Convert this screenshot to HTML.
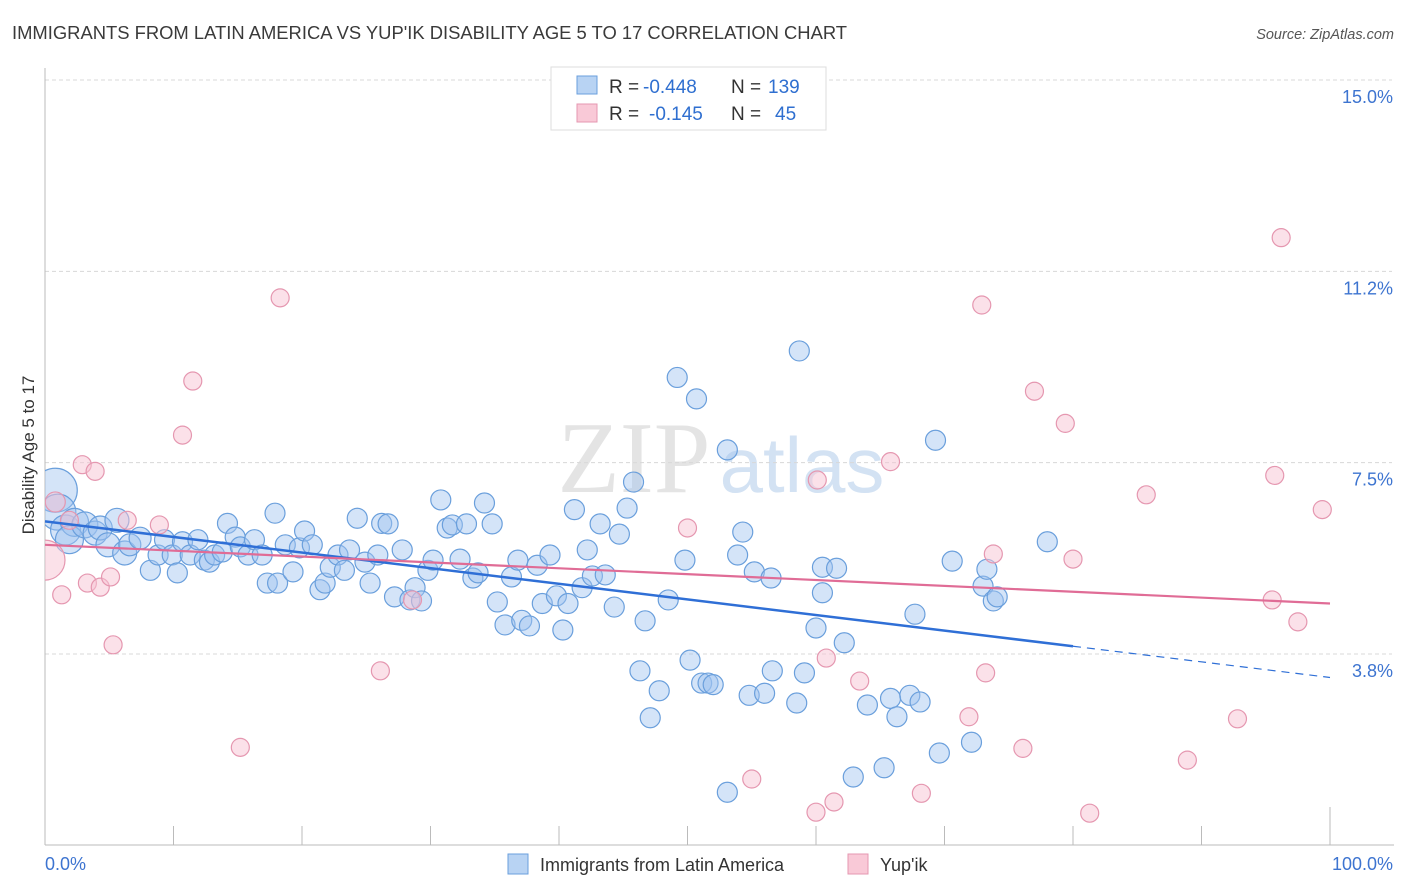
<!DOCTYPE html>
<html><head><meta charset="utf-8"><style>
body{margin:0;background:#fff;font-family:"Liberation Sans",sans-serif;}
svg{display:block}
</style></head><body>
<svg id="chart" width="1406" height="892">
<defs><clipPath id="plotclip"><rect x="45" y="60" width="1361" height="785"/></clipPath></defs>
<text x="12" y="39" font-size="18.4" fill="#3a3a3a">IMMIGRANTS FROM LATIN AMERICA VS YUP'IK DISABILITY AGE 5 TO 17 CORRELATION CHART</text>
<text x="1394" y="39" font-size="14.5" fill="#555" font-style="italic" text-anchor="end">Source: ZipAtlas.com</text>
<g>
<text x="634" y="492" font-size="102" font-family="Liberation Serif,serif" fill="#e4e4e4" text-anchor="middle">ZIP</text>
<text x="802" y="492" font-size="78" fill="#d3e2f3" text-anchor="middle">atlas</text>
</g>
<g id="grid"></g>
<g id="axes"></g>
<g id="pts" clip-path="url(#plotclip)"></g>
<g id="trends"></g>
<text transform="translate(34,455) rotate(-90)" font-size="17" fill="#333" text-anchor="middle">Disability Age 5 to 17</text>
<g>
<rect x="551" y="67" width="275" height="63" fill="#fff" stroke="#ddd"/>
<rect x="577" y="76" width="20" height="18" fill="#b8d3f3" stroke="#6a9fdc"/>
<rect x="577" y="104" width="20" height="18" fill="#f9c9d7" stroke="#e597b0"/>
<text x="609" y="93" font-size="19" fill="#333">R =</text>
<text x="643" y="93" font-size="19" fill="#2f6fd0">-0.448</text>
<text x="731" y="93" font-size="19" fill="#333">N =</text>
<text x="768" y="93" font-size="19" fill="#2f6fd0">139</text>
<text x="609" y="120" font-size="19" fill="#333">R =</text>
<text x="649" y="120" font-size="19" fill="#2f6fd0">-0.145</text>
<text x="731" y="120" font-size="19" fill="#333">N =</text>
<text x="775" y="120" font-size="19" fill="#2f6fd0">45</text>
</g>
<g>
<rect x="508" y="854" width="20" height="20" fill="#b8d3f3" stroke="#6a9fdc"/>
<text x="540" y="871" font-size="18" fill="#333">Immigrants from Latin America</text>
<rect x="848" y="854" width="20" height="20" fill="#f9c9d7" stroke="#e597b0"/>
<text x="880" y="871" font-size="18" fill="#333">Yup'ik</text>
</g>
</svg>
<script>
const yTicks=[15.0,11.25,7.5,3.75];
const yTickLabels=["15.0%","11.2%","7.5%","3.8%"];
const xTicks=[0,10,20,30,40,50,60,70,80,90,100];
const xTickLabels=["0.0%","100.0%"];
const blueX=[0.8,1.0,1.6,2.3,1.9,3.1,3.9,4.3,4.9,5.6,6.2,6.6,7.4,8.2,8.8,9.3,9.9,10.3,10.7,11.3,11.9,12.4,12.8,13.2,13.8,14.2,14.8,15.2,15.8,16.3,16.9,17.3,17.9,18.1,18.7,19.3,19.8,20.2,20.8,21.4,21.8,22.2,22.8,23.3,23.7,24.3,24.9,25.3,25.9,26.2,26.7,27.2,27.8,28.4,28.8,29.3,29.8,30.2,30.8,31.3,31.7,32.3,32.8,33.3,33.7,34.2,34.8,35.2,35.8,36.3,36.8,37.1,37.7,38.3,38.7,39.3,39.8,40.3,40.7,41.2,41.8,42.2,42.6,43.2,43.6,44.3,44.7,45.3,45.8,46.3,46.7,47.1,47.8,48.5,49.2,49.8,50.2,50.7,51.1,51.6,52.0,53.1,53.9,54.3,54.8,55.2,56.0,56.5,56.6,58.5,58.7,59.1,60.0,60.5,60.5,61.6,62.2,62.9,64.0,65.3,65.8,66.3,67.3,67.7,68.1,69.3,69.6,70.6,72.1,73.0,73.3,73.8,74.1,78.0,53.1];
const blueY=[6.96,6.53,6.18,6.33,5.99,6.28,6.12,6.22,5.89,6.37,5.73,5.89,6.02,5.39,5.69,5.99,5.69,5.34,5.95,5.69,5.99,5.59,5.55,5.69,5.75,6.31,6.04,5.85,5.69,5.99,5.69,5.14,6.51,5.14,5.89,5.36,5.83,6.16,5.89,5.01,5.14,5.45,5.69,5.39,5.79,6.41,5.55,5.14,5.69,6.31,6.30,4.87,5.79,4.81,5.05,4.79,5.39,5.59,6.77,6.22,6.28,5.61,6.30,5.24,5.34,6.71,6.30,4.77,4.32,5.26,5.59,4.41,4.30,5.49,4.74,5.69,4.89,4.22,4.74,6.58,5.05,5.79,5.28,6.30,5.30,4.67,6.10,6.61,7.12,3.42,4.40,2.50,3.03,4.81,9.17,5.59,3.63,8.75,3.18,3.18,3.15,7.75,5.69,6.14,2.94,5.36,2.98,5.24,3.42,2.79,9.69,3.38,4.26,5.45,4.95,5.43,3.97,1.34,2.75,1.52,2.88,2.52,2.94,4.53,2.81,7.94,1.81,5.57,2.02,5.08,5.41,4.79,4.87,5.95,1.04];
const blueSize=[22,18,15,14,14,13,12,12,12,12,12,11,11];
const pinkX=[0,0.8,1.3,1.9,2.9,3.3,3.9,4.3,5.1,5.3,6.4,8.9,10.7,11.5,15.2,18.3,26.1,28.6,50.0,55.0,60.0,60.1,60.8,61.4,63.4,65.8,68.2,71.9,72.9,73.2,73.8,76.1,77.0,79.4,80.0,81.3,85.7,88.9,92.8,95.5,95.7,96.2,97.5,99.4];
const pinkY=[5.59,6.73,4.91,6.37,7.46,5.14,7.33,5.06,5.26,3.93,6.37,6.28,8.04,9.10,1.92,10.73,3.42,4.81,6.22,1.30,0.65,7.16,3.67,0.85,3.22,7.52,1.02,2.52,10.59,3.38,5.71,1.90,8.90,8.27,5.61,0.63,6.87,1.67,2.48,4.81,7.25,11.91,4.38,6.58];
const pinkSize=[20,10];
const blueTrend=[6.35,-0.0306];
const pinkTrend=[5.89,-0.0115];
const X0=45,X1=1330,Y15=80,Y375=654;
const xs=v=>X0+(X1-X0)*v/100;
const ys=v=>Y15+(15-v)*(Y375-Y15)/(15-3.75);
const NS="http://www.w3.org/2000/svg";
function mk(t,a,p){const e=document.createElementNS(NS,t);for(const k in a)e.setAttribute(k,a[k]);p.appendChild(e);return e;}
const grid=document.getElementById('grid'),axes=document.getElementById('axes'),pts=document.getElementById('pts'),tr=document.getElementById('trends');
yTicks.forEach((v,i)=>{
 const l=mk('line',{x1:X0,x2:1392,y1:ys(v),y2:ys(v),stroke:'#d8d8d8','stroke-dasharray':'4,3'},grid);
 
 
 const t=mk('text',{x:1393,y:ys(v)+23,'font-size':18,fill:'#3d74d0','text-anchor':'end'},grid);
 t.textContent=yTickLabels[i];
 
 
});
let a=mk('line',{x1:X0,x2:X0,y1:68,y2:845,stroke:'#bbb'},axes);


a=mk('line',{x1:X0,x2:1394,y1:845,y2:845,stroke:'#bbb'},axes);


xTicks.forEach((v,i)=>{
 const t=mk('line',{x1:xs(v),x2:xs(v),y1:(i==10?807:826),y2:845,stroke:'#bbb'},axes);
 
 
});
let t0=mk('text',{x:45,y:870,'font-size':18,fill:'#3d74d0'},axes);t0.textContent=xTickLabels[0];


t0=mk('text',{x:1393,y:870,'font-size':18,fill:'#3d74d0','text-anchor':'end'},axes);t0.textContent=xTickLabels[1];


blueX.forEach((v,i)=>{
 const c=mk('circle',{cx:xs(v),cy:ys(blueY[i]),r:blueSize[i]||10,fill:'rgba(160,196,240,0.45)',stroke:'#6a9fdc','stroke-width':1.2},pts);
 
 
});
pinkX.forEach((v,i)=>{
 const c=mk('circle',{cx:xs(v),cy:ys(pinkY[i]),r:pinkSize[i]||9,fill:'rgba(248,196,212,0.5)',stroke:'#e597b0','stroke-width':1.2},pts);
 
 
});
const bt=x=>blueTrend[0]+blueTrend[1]*x, pt=x=>pinkTrend[0]+pinkTrend[1]*x;
let l=mk('line',{x1:xs(0),y1:ys(bt(0)),x2:xs(80),y2:ys(bt(80)),stroke:'#2f6fd6','stroke-width':2.5},tr);


l=mk('line',{x1:xs(80),y1:ys(bt(80)),x2:xs(100),y2:ys(bt(100)),stroke:'#2f6fd6','stroke-width':1.2,'stroke-dasharray':'8,6'},tr);


l=mk('line',{x1:xs(0),y1:ys(pt(0)),x2:xs(100),y2:ys(pt(100)),stroke:'#e06c96','stroke-width':2.2},tr);


</script>
</body></html>
